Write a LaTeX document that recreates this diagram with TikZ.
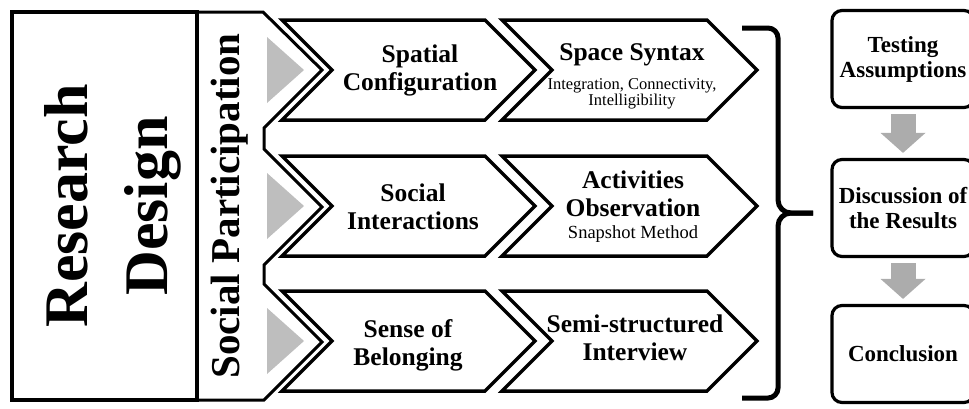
\documentclass[tikz,border=0pt]{standalone}
\usepackage{fontspec}
\setmainfont{Liberation Serif}
\usetikzlibrary{arrows.meta, positioning}

\definecolor{trigray}{RGB}{190,190,190}
\definecolor{flowgray}{RGB}{172,172,172}

% small regular text under a bold heading
\newcommand{\subtxt}{\fontsize{16.5}{18}\selectfont\mdseries}
\newcommand{\methodtxt}{\fontsize{18.5}{20}\selectfont\mdseries}

\begin{document}
\begin{tikzpicture}[x=1pt, y=-1pt,
  frame/.style={draw, line width=4.5pt, rotate=90, minimum width=388pt, minimum height=185pt, inner sep=0pt},
  col/.style={line width=3pt, line join=miter},
  chev/.style={line width=3.5pt, line join=miter, fill=white},
  lbl/.style={align=center, inner sep=0pt, font=\fontsize{25.5}{28}\selectfont\bfseries},
  stage/.style={draw, line width=3.2pt, rounded corners=10pt, minimum width=142pt, minimum height=97pt, align=center, inner sep=0pt, font=\fontsize{23}{25}\selectfont\bfseries},
  flow/.style={flowgray, line width=25pt, -{Triangle[width=45pt, length=20pt, line width=0pt]}, shorten <=5pt, shorten >=5pt}]

\useasboundingbox (0,0) rectangle (969,408);

% left part: research design and social participation
\node[frame] (frame) at (104.5,206) {};
\node[rotate=90, align=center, inner sep=0pt, font=\fontsize{62}{80}\selectfont\bfseries] (design) at (113,206) {Research\\Design};

\draw[col] (197,12) -- (263,12) -- (322,70) -- (264,128) -- (264,149) -- (322,207) -- (264,265) -- (264,284) -- (322,342) -- (264,400) -- (197,400);
\node[rotate=90, inner sep=0pt, font=\fontsize{41}{41}\selectfont\bfseries] (part) at (230,206) {Social Participation};

% the three rows of chevrons
\foreach \c in {70,206,341} {
  \fill[trigray] (267,\c-33) -- (304,\c) -- (267,\c+33) -- cycle;
  \draw[chev] (282,\c-50) -- (485,\c-50) -- (535,\c) -- (485,\c+50) -- (282,\c+50) -- (332,\c) -- cycle;
  \draw[chev] (502,\c-50) -- (707,\c-50) -- (757,\c) -- (707,\c+50) -- (502,\c+50) -- (552,\c) -- cycle;
}

\node[lbl] (spatial) at (420,70) {Spatial\\Configuration};
\node[lbl] (syntax) at (632,76) {Space Syntax\\[1pt]\subtxt Integration, Connectivity,\\[-12pt]\subtxt Intelligibility};

\node[lbl] (social) at (413,207) {Social\\Interactions};
\node[lbl] (activ) at (633,207) {Activities\\Observation\\[-6pt]\methodtxt Snapshot Method};

\node[lbl] (belong) at (408,345) {Sense of\\Belonging};
\node[lbl] (interv) at (635,338) {Semi-structured\\Interview};

% brace
\draw[line width=5pt] (742,28) -- (768,28) to[out=0,in=90] (778,38) -- (778,200) to[out=-90,in=180] (791,213) -- (813,213);
\draw[line width=5pt] (813,213) -- (791,213) to[out=180,in=90] (778,226) -- (778,388) to[out=-90,in=0] (768,398) -- (742,398);

% analysis steps
\node[stage] (test) at (903,59) {Testing\\Assumptions};
\node[stage] (disc) at (903,208) {Discussion of\\the Results};
\node[stage] (concl) at (903,354) {Conclusion};

\draw[flow] (test.south) -- (disc.north);
\draw[flow] (disc.south) -- (concl.north);

\end{tikzpicture}
\end{document}
